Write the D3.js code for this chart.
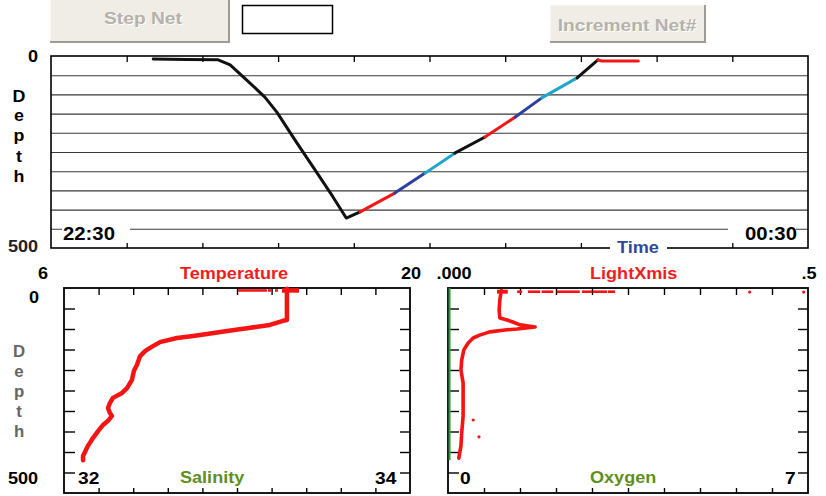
<!DOCTYPE html>
<html><head><meta charset="utf-8">
<script src="https://cdn.jsdelivr.net/npm/d3@7"></script>
<style>
body{margin:0;background:#fff;}
text{font-family:"Liberation Sans",Arial,sans-serif;font-weight:bold;}
</style></head>
<body><svg id="c" width="826" height="496"></svg>
<script>
// ---------------- data ----------------
// tow record: minutes after 22:30, depth (m), net number of each segment
const towTime  = [16.2, 21.5, 26.5, 28.4, 31.5, 33.9, 35.8, 39.0, 42.2, 44.7, 46.8, 49.0, 54.5, 59.3, 64.0, 68.8, 73.6, 77.8, 83.4, 86.7, 87.3, 93.1];
const towDepth = [8, 9, 10, 23, 70, 107, 146, 227, 305, 367, 422, 406, 357, 305, 253, 211, 159, 109, 57, 10, 13, 13];
const towNet   = [0,0,0,0,0,0,0,0,0,0,0,1,2,3,4,5,6,7,8,9,9];
const netColors = ["#111111", "#f01818", "#2e3f9e", "#1fa6c8"];
const timeLabels = ["22:30", "00:30"];

// temperature profile
const tempDepth = [2, 78, 80, 90, 98, 105, 112, 117, 122, 132, 146, 154, 166, 188, 202, 224, 244, 256, 268, 280, 293, 305, 312, 324, 334, 349, 366, 385, 410, 420];
const tempValue = [15.02, 15.02, 14.86, 14.33, 13.40, 12.60, 11.79, 11.22, 10.57, 9.88, 9.48, 9.28, 9.08, 8.95, 8.83, 8.75, 8.55, 8.35, 7.98, 7.86, 7.78, 7.86, 7.94, 7.78, 7.58, 7.38, 7.17, 6.97, 6.77, 6.77];
const tempSurfaceRuns = [[13.04, 14.21], [14.25, 14.38], [14.54, 14.66], [14.82, 15.51]];

// light transmission profile
const lightDepth = [6, 29, 54, 73, 78, 83, 90, 95, 100, 102, 107, 115, 122, 134, 151, 176, 200, 232, 273, 312, 354, 385, 415];
const lightValue = [0.074, 0.072, 0.071, 0.072, 0.082, 0.090, 0.100, 0.121, 0.096, 0.082, 0.058, 0.044, 0.035, 0.028, 0.022, 0.019, 0.018, 0.021, 0.021, 0.021, 0.019, 0.018, 0.015];
const lightSurfaceRuns = [[0.068, 0.083], [0.096, 0.103], [0.111, 0.128], [0.130, 0.146], [0.151, 0.183], [0.186, 0.200], [0.201, 0.221], [0.222, 0.232]];
const lightStrayDepth = [10, 10, 322, 363];
const lightStrayValue = [0.419, 0.494, 0.035, 0.043];

// oxygen profile
const oxyDepth = [0, 420];
const oxyValue = [0.03, 0.03];

// ---------------- drawing ----------------
const svg = d3.select("#c");
const SX = 1.13;
function label(x, y, str, o = {}) {
  const t = svg.append("text")
    .attr("transform", `translate(${x},${y}) scale(${o.sx || SX},1)`)
    .attr("text-anchor", o.anchor || "middle")
    .attr("font-size", o.size || 16)
    .attr("fill", o.fill || "#000")
    .text(str);
  return t;
}

// buttons
function button(x, y, w, h, str, tx, ty) {
  svg.append("rect").attr("x", x).attr("y", y).attr("width", w).attr("height", h).attr("fill", "#efede6");
  svg.append("path").attr("d", `M${x},${y + h}V${y}H${x + w}`).attr("stroke", "#fbfaf6").attr("stroke-width", 1.5).attr("fill", "none");
  svg.append("path").attr("d", `M${x},${y + h - 1}H${x + w - 1}V${y}`).attr("stroke", "#9d9b93").attr("stroke-width", 2).attr("fill", "none");
  label(tx + 1, ty + 1, str, { fill: "#ffffff", size: 17 });
  label(tx, ty, str, { fill: "#b4b2ab", size: 17 });
}
button(50, -2, 180, 45, "Step Net", 143, 24);
button(550, 5, 156, 38, "Increment Net#", 627, 31);
svg.append("rect").attr("x", 242.5).attr("y", 5.5).attr("width", 90).attr("height", 28)
  .attr("fill", "#fff").attr("stroke", "#000").attr("stroke-width", 1.5);

// ---- top panel: depth vs time ----
const xTime = d3.scaleLinear().domain([0, 120]).range([51, 808]);
const yTow = d3.scaleLinear().domain([0, 500]).range([56, 248]);
const topG = svg.append("g");
topG.append("g").attr("transform", "translate(51,0)")
  .call(d3.axisLeft(yTow).tickValues(d3.range(50, 500, 50)).tickSize(-757).tickFormat(""))
  .call(g => g.select(".domain").remove())
  .selectAll("line").attr("stroke", "#3a3a3a").attr("stroke-width", 1.1);
topG.append("g").attr("transform", "translate(0,56)")
  .call(d3.axisBottom(xTime).tickValues(d3.range(12, 120, 12)).tickSize(6).tickFormat(""))
  .call(g => g.select(".domain").remove())
  .selectAll("line").attr("stroke", "#000").attr("stroke-width", 1.3);
topG.append("g").attr("transform", "translate(0,248)")
  .call(d3.axisTop(xTime).tickValues(d3.range(12, 120, 12)).tickSize(5).tickFormat(""))
  .call(g => g.select(".domain").remove())
  .selectAll("line").attr("stroke", "#000").attr("stroke-width", 1.3);
topG.append("rect").attr("x", 51).attr("y", 56).attr("width", 757).attr("height", 192)
  .attr("fill", "none").attr("stroke", "#000").attr("stroke-width", 1.6);

// label backgrounds
svg.append("rect").attr("x", 62).attr("y", 223).attr("width", 68).attr("height", 14).attr("fill", "#fff");
svg.append("rect").attr("x", 728).attr("y", 223).attr("width", 68).attr("height", 14).attr("fill", "#fff");
svg.append("rect").attr("x", 610).attr("y", 242).attr("width", 57).attr("height", 12).attr("fill", "#fff");
label(63, 240, timeLabels[0], { anchor: "start", size: 18 });
label(745, 240, timeLabels[1], { anchor: "start", size: 18 });
label(617, 253, "Time", { anchor: "start", fill: "#2c4a9c" });

// tow trace by net
const towLine = d3.line().x(d => xTime(d[0])).y(d => yTow(d[1]));
const nets = Array.from(new Set(towNet));
nets.forEach(n => {
  const idx = towNet.map((v, i) => v === n ? i : -1).filter(i => i >= 0);
  const pts = d3.range(d3.min(idx), d3.max(idx) + 2).map(i => [towTime[i], towDepth[i]]);
  svg.append("path").attr("d", towLine(pts)).attr("fill", "none")
    .attr("stroke", netColors[n % 4]).attr("stroke-width", 3)
    .attr("stroke-linejoin", "round").attr("stroke-linecap", "round");
});

// top panel text
label(33, 62, "0");
label(23, 252, "500", { fill: "#222" });
["D", "e", "p", "t", "h"].forEach((c, i) => label(19, [102, 121, 141, 162, 182][i], c, { size: 17, sx: 1.05 }));

// ---- bottom panels ----
const yProf = d3.scaleLinear().domain([0, 500]).range([288, 493]);
function panel(x0, x1, domain) {
  const x = d3.scaleLinear().domain(domain).range([x0, x1]);
  const step = (domain[1] - domain[0]) / 10;
  const xt = d3.range(1, 10).map(i => domain[0] + i * step);
  const g = svg.append("g");
  g.append("g").attr("transform", "translate(0,288)")
    .call(d3.axisBottom(x).tickValues(xt).tickSize(7).tickFormat(""));
  g.append("g").attr("transform", "translate(0,493)")
    .call(d3.axisTop(x).tickValues(xt).tickSize(5).tickFormat(""));
  g.append("g").attr("transform", `translate(${x0},0)`)
    .call(d3.axisRight(yProf).tickValues(d3.range(50, 500, 50)).tickSize(11).tickFormat(""));
  g.append("g").attr("transform", `translate(${x1},0)`)
    .call(d3.axisLeft(yProf).tickValues(d3.range(50, 500, 50)).tickSize(10).tickFormat(""));
  g.selectAll(".domain").remove();
  g.selectAll("line").attr("stroke", "#000").attr("stroke-width", 1.4);
  g.append("rect").attr("x", x0).attr("y", 288).attr("width", x1 - x0).attr("height", 205)
    .attr("fill", "none").attr("stroke", "#000").attr("stroke-width", 1.8);
  return x;
}
const xTemp = panel(64, 410, [6, 20]);
const xLight = panel(448, 808, [0, 0.5]);
const xSal = d3.scaleLinear().domain([32, 34]).range([64, 410]);
const xOxy = d3.scaleLinear().domain([0, 7]).range([448, 808]);

// oxygen (green)
svg.append("path")
  .attr("d", d3.line().x((d, i) => xOxy(oxyValue[i])).y((d, i) => yProf(oxyDepth[i]))(oxyDepth))
  .attr("stroke", "#2f9a3a").attr("stroke-width", 2).attr("fill", "none");

// temperature
svg.append("path")
  .attr("d", d3.line().x((d, i) => xTemp(tempValue[i])).y((d, i) => yProf(tempDepth[i]))(tempDepth))
  .attr("stroke", "#f41414").attr("stroke-width", 4.5).attr("fill", "none")
  .attr("stroke-linejoin", "round").attr("stroke-linecap", "round");
tempSurfaceRuns.forEach((r, i) => {
  svg.append("line").attr("x1", xTemp(r[0])).attr("x2", xTemp(r[1]))
    .attr("y1", yProf(6)).attr("y2", yProf(6))
    .attr("stroke", "#f41414").attr("stroke-width", i === 3 ? 4.5 : 2.6);
});

// light transmission
svg.append("path")
  .attr("d", d3.line().x((d, i) => xLight(lightValue[i])).y((d, i) => yProf(lightDepth[i]))(lightDepth))
  .attr("stroke", "#f41414").attr("stroke-width", 3.6).attr("fill", "none")
  .attr("stroke-linejoin", "round").attr("stroke-linecap", "round");
lightSurfaceRuns.forEach((r, i) => {
  svg.append("line").attr("x1", xLight(r[0])).attr("x2", xLight(r[1]))
    .attr("y1", yProf(9)).attr("y2", yProf(9))
    .attr("stroke", "#f41414").attr("stroke-width", i === 0 ? 4 : 2.6);
});
svg.selectAll(".stray").data(lightStrayValue).enter().append("circle")
  .attr("cx", d => xLight(d)).attr("cy", (d, i) => yProf(lightStrayDepth[i]))
  .attr("r", 1.6).attr("fill", "#f41414");

// bottom panel text
const red = "#f21c1c", green = "#5e8f1e";
label(43, 279, "6");
label(180, 279, "Temperature", { anchor: "start", fill: red });
label(411, 279, "20");
label(454, 279, ".000");
label(590, 279, "LightXmis", { anchor: "start", fill: red });
label(809, 279, ".5");
label(34, 303, "0");
label(23, 484, "500");
["D", "e", "p", "t", "h"].forEach((c, i) => label(19, [357, 377, 397, 417, 437][i], c, { fill: "#666", sx: 1.05 }));
label(78, 484, "32", { anchor: "start", size: 17 });
label(180, 483, "Salinity", { anchor: "start", fill: green });
label(375, 484, "34", { anchor: "start", size: 17 });
label(460, 484, "0", { anchor: "start", size: 17 });
label(590, 483, "Oxygen", { anchor: "start", fill: green });
label(785, 484, "7", { anchor: "start", size: 17 });
</script></body></html>
